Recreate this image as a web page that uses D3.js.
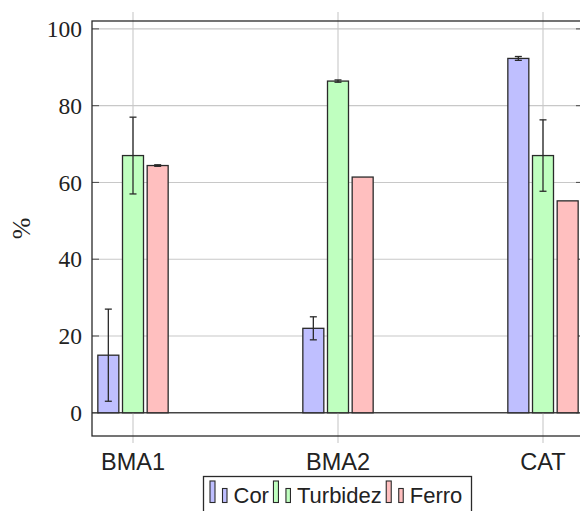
<!DOCTYPE html>
<html>
<head>
<meta charset="utf-8">
<script src="https://cdn.jsdelivr.net/npm/d3@7"></script>
<style>
html,body{margin:0;padding:0;background:#fff;}
svg{display:block;}
</style>
</head>
<body>
<svg id="chart" width="580" height="511"></svg>
<script>
const categories = ["BMA1", "BMA2", "CAT"];
const seriesNames = ["Cor", "Turbidez", "Ferro"];
const corValues = [15, 22, 92.3];
const corErrors = [12, 3, 0.5];
const turbidezValues = [67, 86.4, 67];
const turbidezErrors = [10, 0.3, 9.3];
const ferroValues = [64.4, 61.4, 55.2];
const ferroErrors = [0.2, 0, 0];
const yTicks = [0, 20, 40, 60, 80, 100];
const yLabel = "%";

const seriesFill = ["#bfbfff", "#bfffbf", "#ffbfbf"];
const series = [
  {name: seriesNames[0], values: corValues, errors: corErrors, fill: seriesFill[0]},
  {name: seriesNames[1], values: turbidezValues, errors: turbidezErrors, fill: seriesFill[1]},
  {name: seriesNames[2], values: ferroValues, errors: ferroErrors, fill: seriesFill[2]}
];

const svg = d3.select("#chart");
const frame = {left: 92, right: 583, top: 21, bottom: 436};

const y = d3.scaleLinear().domain([-6.05, 102.05]).range([frame.bottom, frame.top]);
const x = d3.scalePoint().domain(categories).range([133, 543]);
const inner = d3.scaleBand().domain(seriesNames).range([-37, 37]).paddingInner(0.149).paddingOuter(0.0745);

const gridColor = "#c8c8c8";
const dark = "#2a2a2a";

// horizontal grid
svg.append("g").selectAll("line").data(yTicks).join("line")
  .attr("x1", frame.left).attr("x2", frame.right)
  .attr("y1", d => y(d)).attr("y2", d => y(d))
  .attr("stroke", d => d === 0 ? "#444" : gridColor)
  .attr("stroke-width", d => d === 0 ? 1.3 : 1.1);

// vertical grid (extending as outward ticks)
svg.append("g").selectAll("line").data(categories).join("line")
  .attr("x1", d => x(d)).attr("x2", d => x(d))
  .attr("y1", frame.top - 9).attr("y2", frame.bottom + 7)
  .attr("stroke", gridColor).attr("stroke-width", 1.1);

// y ticks inward both sides
const yt = svg.append("g");
yt.selectAll("line.l").data(yTicks).join("line").attr("class", "l")
  .attr("x1", frame.left).attr("x2", frame.left + 7)
  .attr("y1", d => y(d)).attr("y2", d => y(d))
  .attr("stroke", "#555").attr("stroke-width", 1.1);
yt.selectAll("line.r").data(yTicks).join("line").attr("class", "r")
  .attr("x1", frame.right - 7).attr("x2", frame.right)
  .attr("y1", d => y(d)).attr("y2", d => y(d))
  .attr("stroke", "#555").attr("stroke-width", 1.1);

// bars
const barG = svg.append("g");
series.forEach(s => {
  categories.forEach((c, i) => {
    const bx = x(c) + inner(s.name);
    barG.append("rect")
      .attr("x", bx).attr("y", y(s.values[i]))
      .attr("width", inner.bandwidth())
      .attr("height", y(0) - y(s.values[i]))
      .attr("fill", s.fill).attr("stroke", dark).attr("stroke-width", 1.3);
  });
});

// error bars
const errG = svg.append("g");
series.forEach(s => {
  categories.forEach((c, i) => {
    const e = s.errors[i];
    if (!e) return;
    const cx = x(c) + inner(s.name) + inner.bandwidth() / 2;
    const top = y(s.values[i] + e), bot = y(s.values[i] - e);
    errG.append("line").attr("x1", cx).attr("x2", cx).attr("y1", top).attr("y2", bot)
      .attr("stroke", dark).attr("stroke-width", 1.3);
    [top, bot].forEach(yy => {
      errG.append("line").attr("x1", cx - 3.5).attr("x2", cx + 3.5).attr("y1", yy).attr("y2", yy)
        .attr("stroke", dark).attr("stroke-width", 1.3);
    });
  });
});

// frame
svg.append("rect")
  .attr("x", frame.left).attr("y", frame.top)
  .attr("width", frame.right - frame.left).attr("height", frame.bottom - frame.top)
  .attr("fill", "none").attr("stroke", dark).attr("stroke-width", 1.3);

// y tick labels
svg.append("g").selectAll("text").data(yTicks).join("text")
  .attr("x", 82).attr("y", d => y(d)).attr("dy", "0.35em")
  .attr("text-anchor", "end")
  .attr("font-family", "'Liberation Serif', serif").attr("font-size", 23.5)
  .attr("fill", "#222")
  .text(d => d);

// x tick labels
svg.append("g").selectAll("text").data(categories).join("text")
  .attr("x", d => x(d)).attr("y", 469.5)
  .attr("text-anchor", "middle")
  .attr("font-family", "'Liberation Sans', sans-serif").attr("font-size", 23.5)
  .attr("fill", "#222")
  .text(d => d);

// y label
svg.append("text")
  .attr("transform", "translate(30," + ((frame.top + frame.bottom) / 2) + ") rotate(-90)")
  .attr("text-anchor", "middle")
  .attr("font-family", "'Liberation Serif', serif").attr("font-size", 26)
  .attr("fill", "#222")
  .text(yLabel);

// legend
const leg = svg.append("g");
leg.append("rect").attr("x", 203.5).attr("y", 476.5).attr("width", 268).attr("height", 45)
  .attr("fill", "#fff").attr("stroke", dark).attr("stroke-width", 1.3);
let lx = 210;
series.forEach(s => {
  leg.append("rect").attr("x", lx).attr("y", 481).attr("width", 5).attr("height", 21.5)
    .attr("fill", s.fill).attr("stroke", dark).attr("stroke-width", 1.1);
  leg.append("rect").attr("x", lx + 12.5).attr("y", 488.5).attr("width", 4.5).attr("height", 14)
    .attr("fill", s.fill).attr("stroke", dark).attr("stroke-width", 1.1);
  const t = leg.append("text").attr("x", lx + 23.5).attr("y", 502.5)
    .attr("font-family", "'Liberation Sans', sans-serif").attr("font-size", 22)
    .attr("fill", "#222").text(s.name);
  lx = lx + 23.5 + t.node().getComputedTextLength() + 4.5;
});
</script>
</body>
</html>
